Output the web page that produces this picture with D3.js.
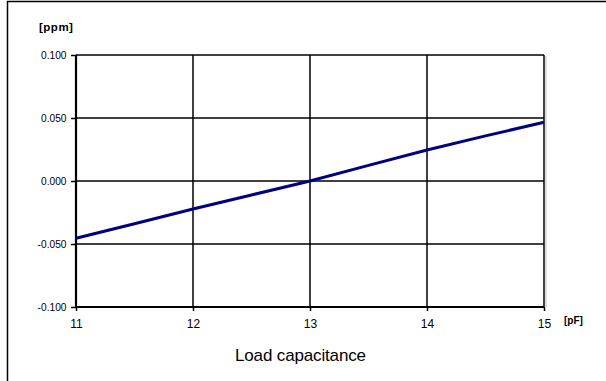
<!DOCTYPE html>
<html><head><meta charset="utf-8">
<script src="https://cdn.jsdelivr.net/npm/d3@7"></script>
<style>body{margin:0;background:#fff}svg{display:block}</style>
</head><body>
<svg id="c" width="606" height="381"></svg>
<script>
const capacitance = [11, 11.5, 12, 12.5, 13, 13.5, 14, 14.5, 15];
const deviation = [-0.0455, -0.0339, -0.0222, -0.0111, 0.0, 0.0124, 0.0246, 0.0358, 0.0466];
const xTicks = [11, 12, 13, 14, 15];
const yTicks = [-0.100, -0.050, 0.000, 0.050, 0.100];

const svg = d3.select("#c");
const font = "Liberation Sans, Arial, sans-serif";
const L = 76, R = 544, T = 55, B = 307;
const x = d3.scaleLinear().domain([11, 15]).range([L, R]);
const y = d3.scaleLinear().domain([-0.1, 0.1]).range([B, T]);
const fmtY = d => d3.format(".3f")(d).replace("\u2212", "-");

// outer frame (top + left)
svg.append("path").attr("d", "M7.5,381V1.5H606").attr("fill","none").attr("stroke","#000").attr("stroke-width",1.5);

// gridlines
const g = svg.append("g");
g.selectAll("line.h").data(yTicks).join("line")
  .attr("x1", L).attr("x2", R).attr("y1", d=>y(d)).attr("y2", d=>y(d))
  .attr("stroke","#000").attr("stroke-width",1.5);
g.selectAll("line.v").data(xTicks).join("line")
  .attr("y1", T).attr("y2", B).attr("x1", d=>x(d)).attr("x2", d=>x(d))
  .attr("stroke","#000").attr("stroke-width",1.5);
// shadow right edge
svg.append("line").attr("x1", R+2).attr("x2", R+2).attr("y1", T+1).attr("y2", B).attr("stroke","#bbb").attr("stroke-width",1);

// axes
const yAxis = d3.axisLeft(y).tickValues(yTicks).tickFormat(fmtY).tickSize(5).tickPadding(4.5);
const xAxis = d3.axisBottom(x).tickValues(xTicks).tickFormat(d3.format("d")).tickSize(4).tickPadding(8);
const ya = svg.append("g").attr("transform", `translate(${L},0)`).call(yAxis);
const xa = svg.append("g").attr("transform", `translate(0,${B})`).call(xAxis);
[ya, xa].forEach(a => {
  a.select(".domain").attr("stroke","#000").attr("stroke-width",2.2);
  a.selectAll(".tick line").attr("stroke","#000").attr("stroke-width",1.5);
  a.selectAll("text").attr("font-family", font).attr("fill","#000");
});
ya.selectAll("text").attr("font-size", 10.2);
xa.selectAll("text").attr("font-size", 12).attr("dy", "0.71em");
ya.select(".domain").attr("d", `M-0,${T}V${B}`);
xa.select(".domain").attr("d", `M${L},0H${R}`);

// line
svg.append("path").datum(capacitance.map((c,i)=>[c, deviation[i]]))
  .attr("d", d3.line().x(d=>x(d[0])).y(d=>y(d[1])))
  .attr("fill","none").attr("stroke","#000080").attr("stroke-width",3);

// labels
svg.append("text").attr("x", 39).attr("y", 31).text("[ppm]")
  .attr("font-family", font).attr("font-size", 11.5).attr("font-weight","bold").attr("letter-spacing", 0.5);
svg.append("text").attr("x", 564).attr("y", 324).text("[pF]")
  .attr("font-family", font).attr("font-size", 10).attr("font-weight","bold");
svg.append("text").attr("x", 235).attr("y", 361).text("Load capacitance")
  .attr("font-family", font).attr("font-size", 17).attr("letter-spacing", -0.15);
</script>
</body></html>
